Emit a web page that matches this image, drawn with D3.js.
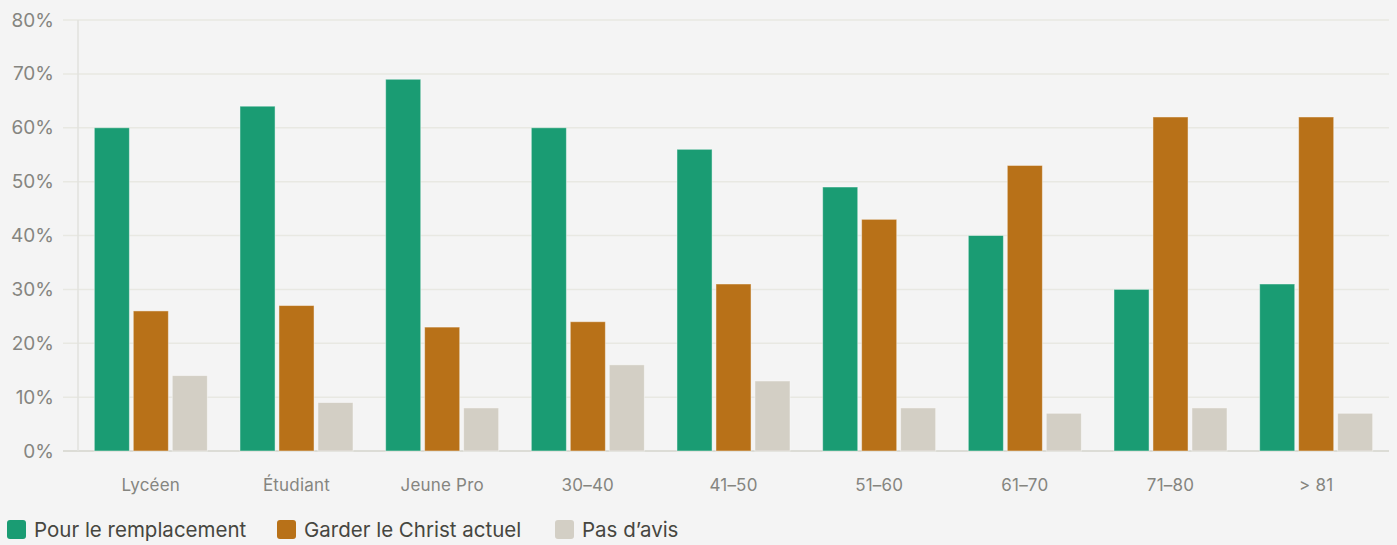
<!DOCTYPE html>
<html>
<head>
<meta charset="utf-8">
<script src="https://cdn.jsdelivr.net/npm/d3@7"></script>
<style>
  body { margin: 0; background: #f4f4f4; }
  svg { display: block; }
</style>
</head>
<body>
<div id="chart"></div>
<script>
// categories and series (percent)
var categories = ['Lycéen', 'Étudiant', 'Jeune Pro', '30–40', '41–50', '51–60', '61–70', '71–80', '> 81'];
var seriesNames = ['Pour le remplacement', 'Garder le Christ actuel', "Pas d’avis"];
var remplacement = [60, 64, 69, 60, 56, 49, 40, 30, 31];
var garder = [26, 27, 23, 24, 31, 43, 53, 62, 62];
var sansAvis = [14, 9, 8, 16, 13, 8, 7, 8, 7];
var yTicks = [0, 10, 20, 30, 40, 50, 60, 70, 80];
var colors = ['#1a9c73', '#b87118', '#d3cfc5'];

var W = 1397, H = 545;
var margin = { top: 20, right: 8, bottom: 94, left: 78 };
var font = 'Inter, "Liberation Sans", sans-serif';

var svg = d3.select('#chart').append('svg')
    .attr('width', W)
    .attr('height', H)
    .style('background', '#f4f4f4');

var values = [remplacement, garder, sansAvis];
var rows = categories.map(function (c, i) {
    return { cat: c, vals: values.map(function (s, k) { return { key: k, v: s[i] }; }) };
});

var x0 = d3.scaleBand()
    .domain(categories)
    .range([margin.left, W - margin.right])
    .paddingInner(0.224)
    .paddingOuter(0.112);

var x1 = d3.scaleBand()
    .domain([0, 1, 2])
    .range([0, x0.bandwidth()])
    .paddingInner(0.1);

var y = d3.scaleLinear()
    .domain([0, 80])
    .range([H - margin.bottom, margin.top]);

// grid
svg.append('g')
    .selectAll('line')
    .data(yTicks)
    .join('line')
    .attr('x1', 63)
    .attr('x2', W - margin.right)
    .attr('y1', function (d) { return y(d); })
    .attr('y2', function (d) { return y(d); })
    .style('stroke', function (d) { return d === 0 ? '#dcdcd6' : '#e8e8e2'; })
    .style('stroke-width', function (d) { return d === 0 ? 2 : 1.5; });

// vertical axis line
svg.append('line')
    .attr('x1', margin.left).attr('x2', margin.left)
    .attr('y1', y(80)).attr('y2', y(0))
    .style('stroke', '#e2e2de')
    .style('stroke-width', 1.5);

// y labels
var yAxis = d3.axisLeft(y)
    .tickValues(yTicks)
    .tickFormat(function (d) { return d + '%'; })
    .tickSize(0)
    .tickPadding(24);

svg.append('g')
    .attr('transform', 'translate(' + margin.left + ',0)')
    .call(yAxis)
    .call(function (g) { g.select('.domain').remove(); })
    .selectAll('text')
    .style('font-family', font)
    .style('font-size', '19px')
    .style('fill', '#858580');

// bars
var groups = svg.append('g')
    .selectAll('g')
    .data(rows)
    .join('g')
    .attr('transform', function (d) { return 'translate(' + x0(d.cat) + ',0)'; });

groups.selectAll('rect')
    .data(function (d) { return d.vals; })
    .join('rect')
    .attr('x', function (d) { return x1(d.key); })
    .attr('width', x1.bandwidth())
    .attr('y', function (d) { return y(d.v); })
    .attr('height', function (d) { return y(0) - y(d.v); })
    .style('fill', function (d) { return colors[d.key]; })
    .style('stroke', 'rgba(255,255,255,0.45)')
    .style('stroke-width', 1);

// x labels
var xAxis = d3.axisBottom(x0).tickSize(0).tickPadding(28);
svg.append('g')
    .attr('transform', 'translate(0,' + y(0) + ')')
    .call(xAxis)
    .call(function (g) { g.select('.domain').remove(); })
    .selectAll('text')
    .style('font-family', font)
    .style('font-size', '17px')
    .style('letter-spacing', '0.2px')
    .style('fill', '#858580');

// legend
var legendX = [7, 277, 555];
var legend = svg.append('g')
    .selectAll('g')
    .data(seriesNames)
    .join('g')
    .attr('transform', function (d, i) { return 'translate(' + legendX[i] + ',520)'; });

legend.append('rect')
    .attr('width', 19)
    .attr('height', 19)
    .attr('rx', 3)
    .style('fill', function (d, i) { return colors[i]; });

legend.append('text')
    .attr('x', 27)
    .attr('y', 16.5)
    .text(function (d) { return d; })
    .style('font-family', font)
    .style('font-size', '20.5px')
    .style('fill', '#46463f');
</script>
</body>
</html>
